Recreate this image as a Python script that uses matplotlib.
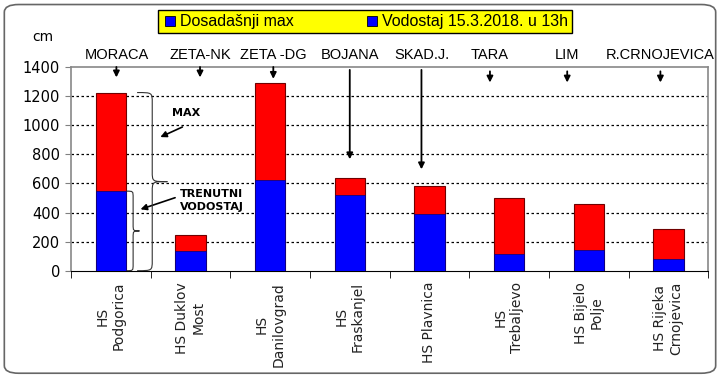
import matplotlib.pyplot as plt
import numpy as np
from matplotlib.patches import FancyBboxPatch, PathPatch
from matplotlib.path import Path
from matplotlib.lines import Line2D

stations = ["HS\nPodgorica", "HS Duklov\nMost", "HS\nDanilovgrad", "HS\nFraskanjel",
            "HS Plavnica", "HS\nTrebaljevo", "HS Bijelo\nPolje", "HS Rijeka\nCrnojevica"]
rivers = ["MORACA", "ZETA-NK", "ZETA -DG", "BOJANA", "SKAD.J.", "TARA", "LIM", "R.CRNOJEVICA"]
max_level = [1225, 245, 1294, 635, 584, 499, 456, 286]
cur_level = [547, 135, 625, 518, 387, 115, 140, 78]

plt.rcParams['font.family'] = ['DejaVu Sans']
fig = plt.figure(figsize=(7.2, 3.77), dpi=100)
ax = fig.add_axes([0.0986, 0.282, 0.885, 0.540])

x = np.arange(len(stations))
w = 0.38
ax.bar(x, max_level, w, color="#ff0000", edgecolor="#700000", linewidth=0.8, zorder=2)
ax.bar(x, cur_level, w, color="#0000ff", edgecolor="#000080", linewidth=0.5, zorder=3)

ax.set_xlim(-0.5, len(stations) - 0.5)
ax.set_ylim(0, 1400)
ax.set_yticks(range(0, 1401, 200))
for y in range(200, 1400, 200):
    ax.axhline(y, color="black", linestyle=(0, (2, 2)), linewidth=0.9, zorder=1)

ax.set_xticks(x)
ax.set_xticklabels(stations, rotation=90, fontsize=10, color="#222222", multialignment="center")
ax.set_xticks(np.arange(len(stations) + 1) - 0.5, minor=True)
ax.tick_params(axis="x", which="major", length=0, pad=8)
ax.tick_params(axis="x", which="minor", length=5, color="black")
ax.tick_params(axis="y", length=4, labelsize=10.5, pad=4, color="#808080")
for s in ["left", "right", "top"]:
    ax.spines[s].set_color("#888888")
    ax.spines[s].set_linewidth(1.2)
ax.spines["bottom"].set_color("black")

ax.text(-0.044, 1.147, "cm", transform=ax.transAxes, ha="center", va="center", fontsize=10)

# river names with arrows
arrow_top = [1420, 1420, 1420, 1400, 1400, 1390, 1390, 1390]
arrow_end = [1310, 1310, 1300, 747, 678, 1275, 1275, 1275]
offsets = [0.07, 0.12, 0.04, 0.0, -0.1, -0.24, -0.27, -0.1]
for i, name in enumerate(rivers):
    xi = x[i] + offsets[i]
    ax.text(xi, 1481, name, ha="center", va="center", fontsize=10.5,
            family="Liberation Sans", clip_on=False)
    ax.annotate("", xy=(xi, arrow_end[i]), xytext=(xi, arrow_top[i]),
                arrowprops=dict(arrowstyle="-|>", color="black", lw=1.3, mutation_scale=9),
                annotation_clip=False)


def brace(x0, y0, y1, width, r):
    xm = x0 + width / 2
    ym = (y0 + y1) / 2
    verts = [(x0, y0), (xm, y0), (xm, y0), (xm, y0 - r),
             (xm, ym + r),
             (xm, ym), (xm, ym), (x0 + width, ym),
             (xm, ym), (xm, ym), (xm, ym - r),
             (xm, y1 + r),
             (xm, y1), (xm, y1), (x0, y1)]
    codes = [Path.MOVETO, Path.CURVE4, Path.CURVE4, Path.CURVE4,
             Path.LINETO,
             Path.CURVE4, Path.CURVE4, Path.CURVE4,
             Path.CURVE4, Path.CURVE4, Path.CURVE4,
             Path.LINETO,
             Path.CURVE4, Path.CURVE4, Path.CURVE4]
    ax.add_patch(PathPatch(Path(verts, codes), fill=False, lw=0.8, edgecolor="#333333", zorder=4))


brace(0.33, max_level[0], 0, 0.38, 70)
brace(0.20, cur_level[0], 0, 0.16, 45)

ax.text(0.95, 1083, "MAX", ha="center", va="center", fontsize=8, fontweight="bold")
ax.annotate("", xy=(0.59, 911), xytext=(0.93, 996),
            arrowprops=dict(arrowstyle="-|>", color="black", lw=1.2, mutation_scale=9))
ax.text(0.87, 485, "TRENUTNI\nVODOSTAJ", ha="left", va="center", fontsize=8,
        fontweight="bold", linespacing=1.4, zorder=5)
ax.annotate("", xy=(0.34, 416), xytext=(0.84, 508),
            arrowprops=dict(arrowstyle="-|>", color="black", lw=1.2, mutation_scale=9))

# legend box
handles = [Line2D([], [], marker="s", linestyle="", markersize=7, markerfacecolor="#0000ff",
                  markeredgecolor="black", markeredgewidth=0.6) for _ in range(2)]
leg = fig.legend(handles, ["Dosadašnji max", "Vodostaj 15.3.2018. u 13h"], ncol=2,
                 loc="center", bbox_to_anchor=(0.507, 0.942),
                 frameon=True, fancybox=False, handletextpad=0.1, columnspacing=4.4,
                 handlelength=1.0, borderpad=0.25, borderaxespad=0,
                 prop={"family": "Liberation Sans", "size": 11.5})
leg.get_frame().set_facecolor("#ffff00")
leg.get_frame().set_edgecolor("black")
leg.get_frame().set_alpha(1)

fig.patches.append(FancyBboxPatch((0.006, 0.01), 0.988, 0.978, boxstyle="round,pad=0,rounding_size=0.02",
                                  transform=fig.transFigure, fill=False, edgecolor="#666666", lw=1.2))

fig.savefig("out.png", dpi=100)
